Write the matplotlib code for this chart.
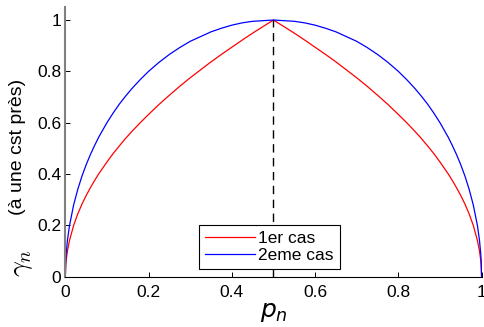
import matplotlib
matplotlib.use("Agg")
import matplotlib.pyplot as plt

# values
p = [0, 0.001, 0.002, 0.005, 0.01, 0.02, 0.03, 0.04, 0.05, 0.06, 0.07, 0.08,
     0.1, 0.115, 0.13, 0.145, 0.16, 0.18, 0.2, 0.225, 0.25, 0.275, 0.3, 0.35,
     0.375, 0.4, 0.425, 0.45, 0.5,
     0.55, 0.575, 0.6, 0.625, 0.65, 0.7, 0.725, 0.75, 0.775, 0.8, 0.82, 0.84,
     0.855, 0.87, 0.885, 0.9, 0.92, 0.93, 0.94, 0.95, 0.96, 0.97, 0.98, 0.99,
     0.995, 0.998, 0.999, 1]

cas1 = [0, 0.045, 0.063, 0.1, 0.141, 0.2, 0.245, 0.283, 0.316, 0.346, 0.374, 0.4,
        0.447, 0.48, 0.51, 0.539, 0.566, 0.6, 0.632, 0.671, 0.707, 0.742, 0.775, 0.837,
        0.866, 0.894, 0.922, 0.949, 1.0,
        0.949, 0.922, 0.894, 0.866, 0.837, 0.775, 0.742, 0.707, 0.671, 0.632, 0.6, 0.566,
        0.539, 0.51, 0.48, 0.447, 0.4, 0.374, 0.346, 0.316, 0.283, 0.245, 0.2, 0.141,
        0.1, 0.063, 0.045, 0]

cas2 = [0, 0.063, 0.089, 0.141, 0.199, 0.28, 0.341, 0.392, 0.436, 0.475, 0.51, 0.543,
        0.6, 0.638, 0.673, 0.704, 0.733, 0.768, 0.8, 0.835, 0.866, 0.893, 0.917, 0.954,
        0.968, 0.98, 0.989, 0.995, 1.0,
        0.995, 0.989, 0.98, 0.968, 0.954, 0.917, 0.893, 0.866, 0.835, 0.8, 0.768, 0.733,
        0.704, 0.673, 0.638, 0.6, 0.543, 0.51, 0.475, 0.436, 0.392, 0.341, 0.28, 0.199,
        0.141, 0.089, 0.063, 0]

labels = ["1er cas", "2eme cas"]
xticks = [0, 0.2, 0.4, 0.6, 0.8, 1]
xticklabels = ["0", "0.2", "0.4", "0.6", "0.8", "1"]
yticks = [0, 0.2, 0.4, 0.6, 0.8, 1]
yticklabels = ["0", "0.2", "0.4", "0.6", "0.8", "1"]

plt.rcParams["font.family"] = ["Liberation Sans", "DejaVu Sans"]

fig = plt.figure(figsize=(4.84, 3.27), dpi=100)
ax = fig.add_axes([0.135, 0.154, 0.86, 0.824])

ax.plot(p, cas1, color="red", lw=0.9, label=labels[0])
ax.plot(p, cas2, color="blue", lw=0.9, label=labels[1])
ax.plot([0.5, 0.5], [0, 1], color="black", lw=1, dashes=(6, 4))

ax.set_xlim(0, 1)
ax.set_ylim(0, 1.05)
ax.set_xticks(xticks)
ax.set_xticklabels(xticklabels, fontsize=12.5)
ax.set_yticks(yticks)
ax.set_yticklabels(yticklabels, fontsize=12.5)
ax.tick_params(direction="in", length=3.5, width=0.7, pad=3)
ax.tick_params(axis="x", pad=6)

ax.spines["top"].set_visible(False)
ax.spines["right"].set_visible(False)
ax.spines["left"].set_color("#808080")
ax.spines["left"].set_linewidth(1.5)
ax.spines["bottom"].set_linewidth(0.8)

ax.set_xlabel("$p_n$", fontsize=18, math_fontfamily="dejavusans", labelpad=0)

# y label in two pieces (gamma_n drawn larger, as in the reference)
fig.text(22 / 484, 1 - 277 / 327, r"$\gamma_n$", rotation=90, fontsize=20,
         math_fontfamily="cm", ha="center", va="bottom")
fig.text(18 / 484, 1 - 215 / 327, "(à une cst près)", rotation=90, fontsize=14,
         ha="center", va="bottom")

leg = ax.legend(loc="lower center", bbox_to_anchor=(0.49, 0.027), borderaxespad=0,
                fontsize=12.5, fancybox=False, framealpha=1, edgecolor="black",
                handlelength=2.9, handletextpad=0.15, labelspacing=0.1,
                borderpad=0.35)
leg.get_frame().set_linewidth(0.8)

fig.savefig("out.png", dpi=100)
